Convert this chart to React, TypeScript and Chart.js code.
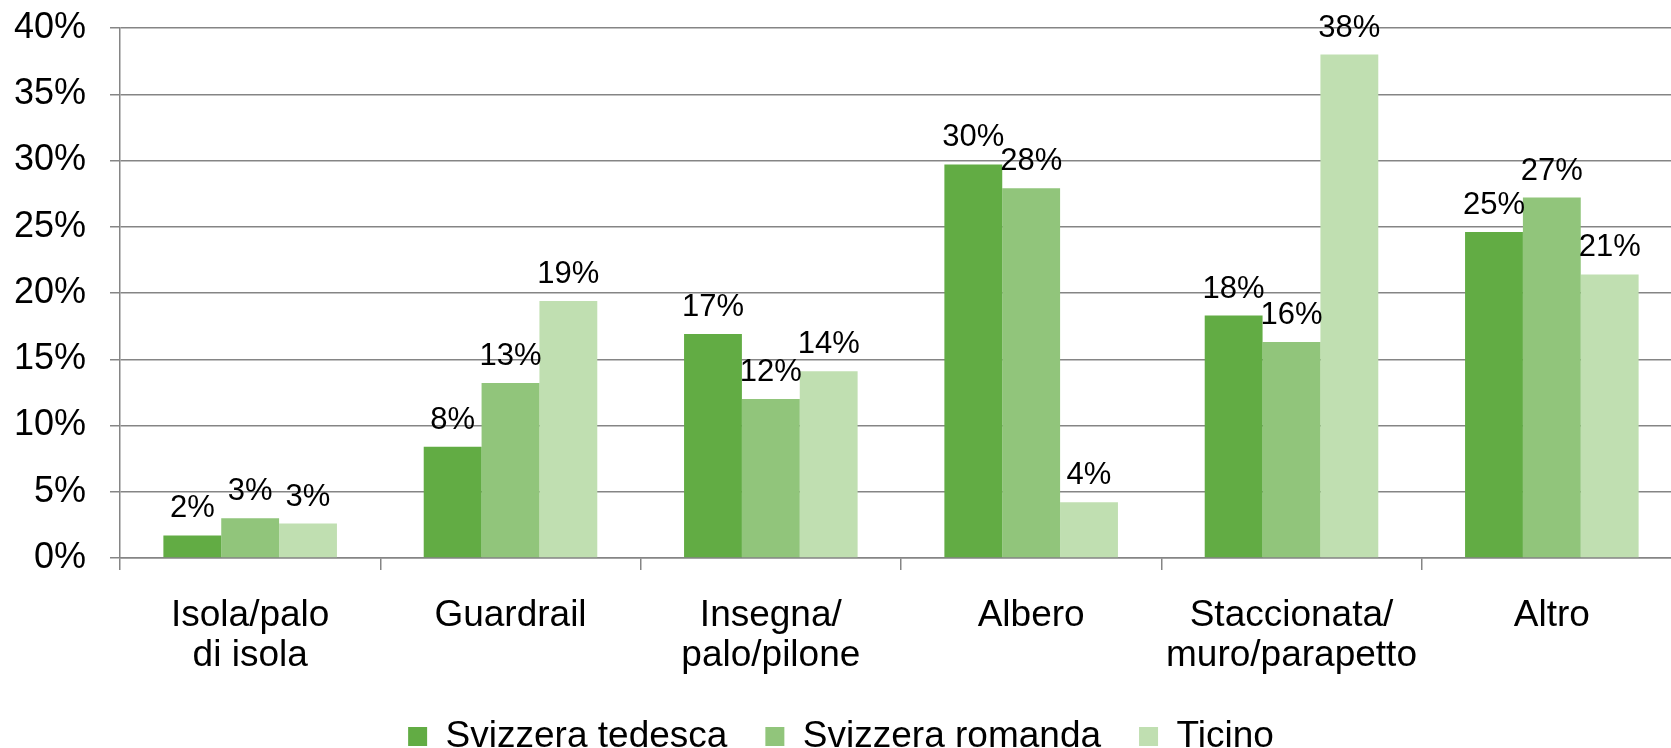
import React, { useEffect, useRef } from 'react';
import { Chart, registerables } from 'chart.js';

Chart.register(...registerables);

const categories: string[][] = [
  ['Isola/palo', 'di isola'],
  ['Guardrail'],
  ['Insegna/', 'palo/pilone'],
  ['Albero'],
  ['Staccionata/', 'muro/parapetto'],
  ['Altro'],
];
const seriesNames = ['Svizzera tedesca', 'Svizzera romanda', 'Ticino'];
const tedesca = [1.7, 8.4, 16.9, 29.7, 18.3, 24.6];
const romanda = [3.0, 13.2, 12.0, 27.9, 16.3, 27.2];
const ticino = [2.6, 19.4, 14.1, 4.2, 38.0, 21.4];
const seriesColors = ['#62AC44', '#91C57B', '#C0DFB1'];
const yMin = 0;
const yMax = 40;
const yStep = 5;

const FONT = '"Liberation Sans", Arial, Helvetica, sans-serif';
const GRID = '#858585';

const valueLabels = {
  id: 'valueLabels',
  afterDatasetsDraw(chart: any) {
    const ctx = chart.ctx;
    ctx.save();
    ctx.font = `31px ${FONT}`;
    ctx.fillStyle = '#000';
    ctx.textAlign = 'center';
    ctx.textBaseline = 'alphabetic';
    chart.data.datasets.forEach((ds: any, i: number) => {
      const meta = chart.getDatasetMeta(i);
      meta.data.forEach((bar: any, j: number) => {
        ctx.fillText(`${Math.round(ds.data[j])}%`, bar.x, bar.y - 18);
      });
    });
    ctx.restore();
  },
};

export default function App() {
  const ref = useRef<HTMLCanvasElement | null>(null);

  useEffect(() => {
    if (!ref.current) return;
    Chart.defaults.font.family = FONT;
    Chart.defaults.color = '#000';
    const chart = new Chart(ref.current, {
      type: 'bar',
      data: {
        labels: categories,
        datasets: [tedesca, romanda, ticino].map((d, i) => ({
          label: seriesNames[i],
          data: d,
          backgroundColor: seriesColors[i],
          borderWidth: 0,
          categoryPercentage: 0.6667,
          barPercentage: 1,
        })),
      },
      options: {
        responsive: false,
        animation: false,
        devicePixelRatio: 1,
        layout: { padding: { top: 28, left: 0, right: 0, bottom: 0 } },
        plugins: {
          tooltip: { enabled: false },
          legend: {
            position: 'bottom',
            labels: {
              boxWidth: 19,
              boxHeight: 19,
              padding: 38,
              color: '#000',
              font: { size: 37, family: FONT },
            },
          },
        },
        scales: {
          x: {
            grid: {
              display: true,
              drawOnChartArea: false,
              drawTicks: true,
              tickLength: 12,
              color: GRID,
              lineWidth: 1.5,
              offset: true,
            },
            border: { display: true, color: GRID, width: 1.5 },
            ticks: {
              padding: 26,
              maxRotation: 0,
              autoSkip: false,
              color: '#000',
              font: { size: 37, family: FONT, lineHeight: 40 / 37 },
            },
            afterFit(scale: any) {
              scale.height = 122;
            },
          },
          y: {
            min: yMin,
            max: yMax,
            ticks: {
              stepSize: yStep,
              padding: 24,
              color: '#000',
              font: { size: 36, family: FONT },
              callback: (v: any) => `${v}%`,
            },
            grid: {
              color: GRID,
              lineWidth: 1.5,
              drawTicks: true,
              tickLength: 10,
            },
            border: { display: true, color: GRID, width: 1.5 },
            afterFit(scale: any) {
              scale.width = 120;
              scale.paddingTop = 0;
              scale.paddingBottom = 0;
            },
          },
        },
      },
      plugins: [valueLabels],
    } as any);
    return () => chart.destroy();
  }, []);

  return (
    <div
      style={{
        position: 'fixed',
        left: 0,
        top: 0,
        width: 1671,
        height: 748,
        overflow: 'hidden',
        background: '#fff',
      }}
    >
      <canvas ref={ref} width={1682} height={765} style={{ display: 'block' }} />
    </div>
  );
}
